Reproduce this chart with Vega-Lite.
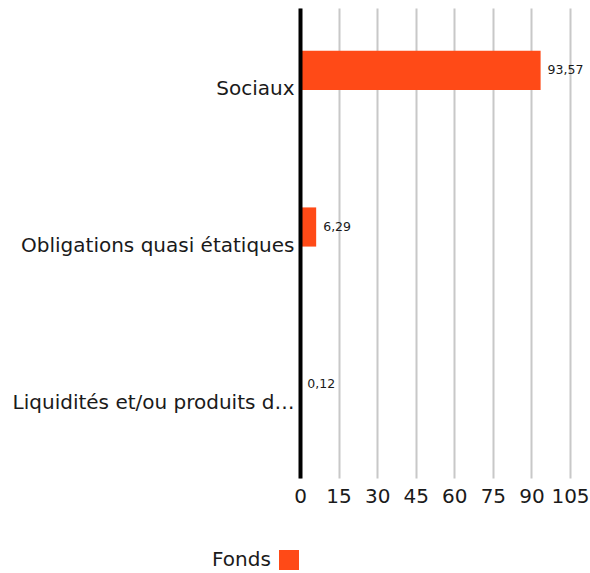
{
  "$schema": "https://vega.github.io/schema/vega-lite/v6.json",
  "width": 270,
  "height": 470,
  "autosize": "none",
  "padding": {"left": 300, "top": 8, "right": 20, "bottom": 95},
  "config": {
    "locale": {"number": {"decimal": ",", "thousands": " ", "grouping": [3], "currency": ["", " €"]}},
    "font": "DejaVu Sans",
    "view": {"stroke": null}
  },
  "data": {
    "values": [
      {"categorie": "Sociaux", "serie": "Fonds", "valeur": 93.57},
      {"categorie": "Obligations quasi étatiques", "serie": "Fonds", "valeur": 6.29},
      {"categorie": "Liquidités et/ou produits dérivés", "serie": "Fonds", "valeur": 0.12}
    ]
  },
  "encoding": {
    "y": {
      "field": "categorie",
      "type": "nominal",
      "sort": null,
      "scale": {"paddingInner": 0, "paddingOuter": 0},
      "axis": {
        "title": null,
        "domain": true,
        "domainColor": "#000000",
        "domainWidth": 4,
        "ticks": false,
        "labelFontSize": 20,
        "labelColor": "#1a1a1a",
        "labelLimit": 286,
        "labelPadding": 6,
        "labelOffset": 3,
        "zindex": 2
      }
    },
    "x": {
      "field": "valeur",
      "type": "quantitative",
      "scale": {"domain": [0, 105], "nice": false},
      "axis": {
        "title": null,
        "values": [0, 15, 30, 45, 60, 75, 90, 105],
        "format": "d",
        "domain": false,
        "ticks": false,
        "grid": true,
        "gridColor": "#c8c8c8",
        "gridWidth": 2,
        "labelFontSize": 20,
        "labelColor": "#1a1a1a",
        "labelPadding": 8,
        "labelFlush": false
      }
    }
  },
  "layer": [
    {
      "mark": {"type": "bar", "height": {"band": 0.25}, "yOffset": -16},
      "encoding": {
        "color": {
          "field": "serie",
          "type": "nominal",
          "scale": {"range": ["#ff4a17"]},
          "legend": {
            "title": "Fonds",
            "titleOrient": "left",
            "titleFontSize": 20,
            "titleFontWeight": "normal",
            "titleColor": "#1a1a1a",
            "titlePadding": 8,
            "labelExpr": "''",
            "labelFontSize": 0,
            "labelOffset": 0,
            "symbolType": "square",
            "symbolSize": 400,
            "symbolStrokeWidth": 0,
            "orient": "none",
            "legendX": -88,
            "legendY": 542,
            "direction": "horizontal"
          }
        }
      }
    },
    {
      "mark": {"type": "text", "align": "left", "dx": 7, "yOffset": -16, "fontSize": 12.5, "color": "#1a1a1a"},
      "encoding": {
        "text": {"field": "valeur", "type": "quantitative", "format": ".2f"}
      }
    }
  ]
}
